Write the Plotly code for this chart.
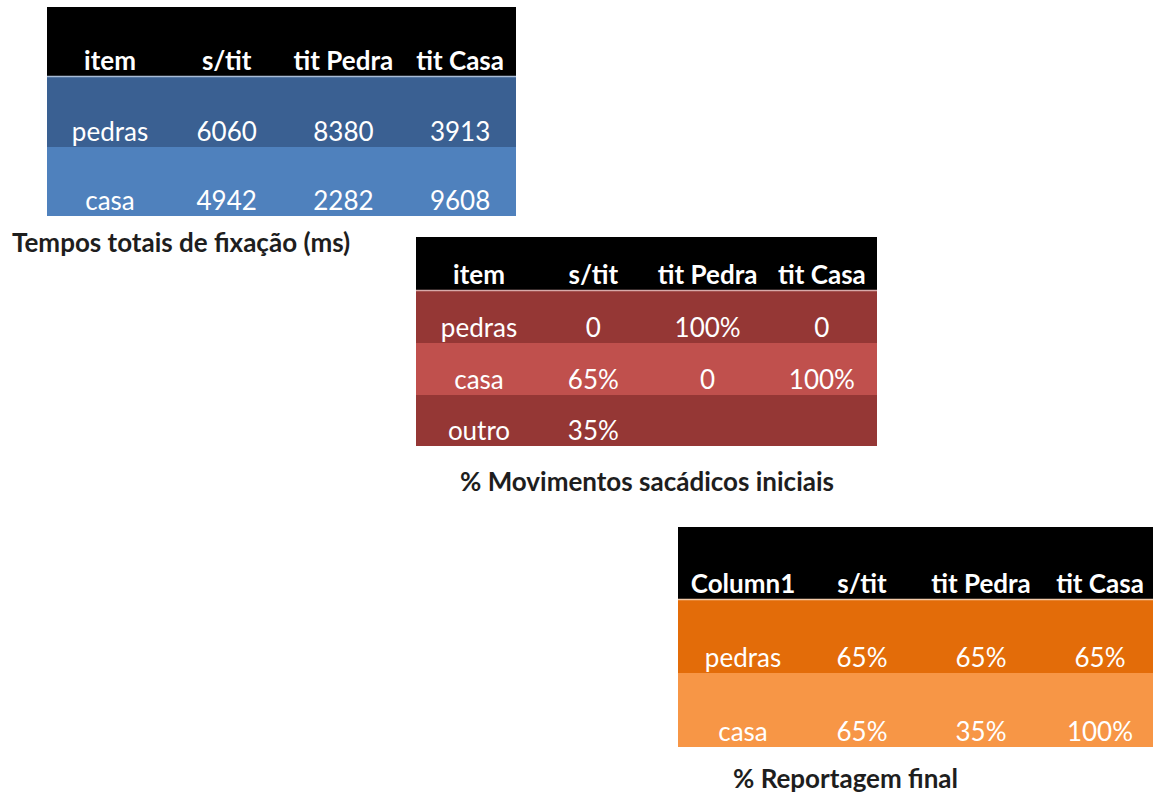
import plotly.graph_objects as go

# ---------------- data ----------------
t1_header = ["item", "s/tit", "tit Pedra", "tit Casa"]
t1_rows = ["pedras", "casa"]
t1_values = [[6060, 8380, 3913],
             [4942, 2282, 9608]]
t1_caption = "Tempos totais de fixação (ms)"

t2_header = ["item", "s/tit", "tit Pedra", "tit Casa"]
t2_rows = ["pedras", "casa", "outro"]
t2_values = [[0, 100, 0],
             [65, 0, 100],
             [35, None, None]]
t2_caption = "% Movimentos sacádicos iniciais"

t3_header = ["Column1", "s/tit", "tit Pedra", "tit Casa"]
t3_rows = ["pedras", "casa"]
t3_values = [[65, 65, 65],
             [65, 35, 100]]
t3_caption = "% Reportagem final"

# ---------------- styles / layout geometry ----------------
FONT = "Lato"
W, H = 1153, 794
TXT_OFF = 13

tables = [
    dict(header=t1_header, rows=t1_rows, values=t1_values, fmt="num",
         x0=47, x1=516, y_edges=[7, 76, 147, 216], c0=63, step=116.7,
         colors=["#3a6092", "#4f81bd"], sep="#a9bcd6",
         caption=t1_caption, cap_x=10, cap_y=242, cap_anchor="left"),
    dict(header=t2_header, rows=t2_rows, values=t2_values, fmt="pct",
         x0=416, x1=877, y_edges=[237, 290, 343, 395, 446], c0=63, step=114.3,
         colors=["#953735", "#c0504d", "#953735"], sep="#d8a9a8",
         caption=t2_caption, cap_x=647, cap_y=481, cap_anchor="center"),
    dict(header=t3_header, rows=t3_rows, values=t3_values, fmt="pct",
         x0=678, x1=1153, y_edges=[527, 599, 673, 747], c0=65, step=119,
         colors=["#e36c09", "#f79646"], sep="#f3c9a8",
         caption=t3_caption, cap_x=845, cap_y=778, cap_anchor="center"),
]


def fmt_val(v, kind):
    if v is None:
        return ""
    if kind == "pct":
        return "0" if v == 0 else f"{v}%"
    return str(v)


fig = go.Figure()
shapes = []

for t in tables:
    ye = t["y_edges"]
    # header background
    shapes.append(dict(type="rect", xref="x", yref="y", x0=t["x0"], x1=t["x1"],
                       y0=ye[0], y1=ye[1], fillcolor="#000000", line_width=0, layer="below"))
    # body rows
    for i in range(len(t["rows"])):
        shapes.append(dict(type="rect", xref="x", yref="y", x0=t["x0"], x1=t["x1"],
                           y0=ye[i + 1], y1=ye[i + 2], fillcolor=t["colors"][i],
                           line_width=0, layer="below"))
    # separator line under header
    shapes.append(dict(type="line", xref="x", yref="y", x0=t["x0"], x1=t["x1"],
                       y0=ye[1] + 0.5, y1=ye[1] + 0.5, line=dict(color=t["sep"], width=1.5)))

    xs = [t["x0"] + t["c0"] + j * t["step"] for j in range(4)]
    # header text
    fig.add_trace(go.Scatter(
        x=xs, y=[ye[1] - TXT_OFF] * 4, text=t["header"], mode="text",
        textposition="middle center",
        textfont=dict(family=FONT, size=26, color="white", weight="bold"),
        hoverinfo="skip", showlegend=False))
    # body text
    bx, by, bt = [], [], []
    for i, r in enumerate(t["rows"]):
        cells = [r] + [fmt_val(v, t["fmt"]) for v in t["values"][i]]
        for j, c in enumerate(cells):
            bx.append(xs[j])
            by.append(ye[i + 2] - TXT_OFF)
            bt.append(c)
    fig.add_trace(go.Scatter(
        x=bx, y=by, text=bt, mode="text", textposition="middle center",
        textfont=dict(family=FONT, size=26, color="white"),
        hoverinfo="skip", showlegend=False))
    # caption
    fig.add_annotation(x=t["cap_x"], y=t["cap_y"], xref="x", yref="y",
                       text=t["caption"], showarrow=False,
                       xanchor=t["cap_anchor"], yanchor="middle",
                       font=dict(family=FONT, size=26, color="#1e1e1e", weight="bold"))

fig.update_layout(
    width=W, height=H,
    margin=dict(l=0, r=0, t=0, b=0),
    paper_bgcolor="white", plot_bgcolor="white",
    shapes=shapes,
    xaxis=dict(range=[0, W], visible=False, fixedrange=True),
    yaxis=dict(range=[H, 0], visible=False, fixedrange=True),
    showlegend=False,
)

fig.write_html("out.html", config={"displayModeBar": False})
